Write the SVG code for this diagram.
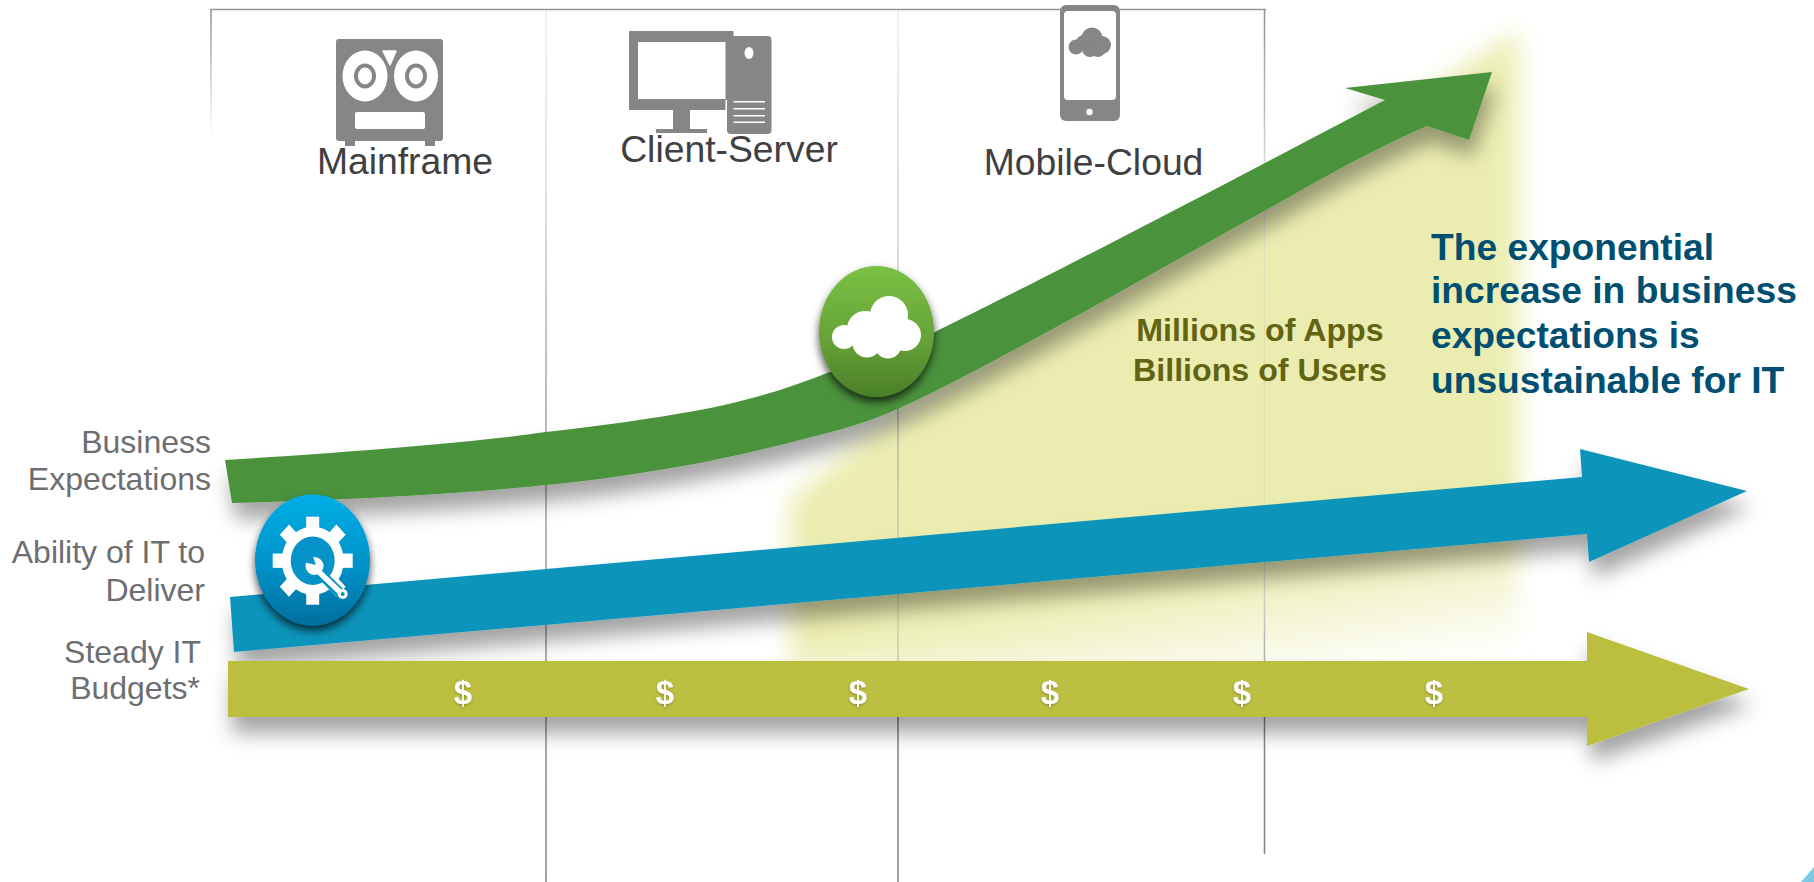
<svg xmlns="http://www.w3.org/2000/svg" width="1814" height="882" viewBox="0 0 1814 882">
<style>
text{font-family:"Liberation Sans",Arial,sans-serif}
.era{font-size:37.300px;fill:#404042;text-anchor:middle}
.lab{font-size:32px;fill:#6d6e71;text-anchor:end}
.usd{font-size:33px;font-weight:bold;fill:#fff;text-anchor:middle}
.ic{fill:#868689}
.w{fill:#fff}
.note{font-size:37.200px;font-weight:bold;fill:#004f71}
.apps{font-size:32.200px;font-weight:bold;fill:#626313;text-anchor:middle}
</style>
<defs>
<filter id="ds" x="-10%" y="-30%" width="120%" height="190%"><feDropShadow dx="4" dy="16" stdDeviation="10" flood-color="#000" flood-opacity=".36"/></filter>
<filter id="bs" x="-30%" y="-30%" width="160%" height="160%"><feDropShadow dx="0" dy="5" stdDeviation="4" flood-color="#000" flood-opacity=".7"/></filter>
<filter id="blur" x="-10%" y="-10%" width="120%" height="120%"><feGaussianBlur stdDeviation="12"/></filter>
<filter id="ts" x="-30%" y="-30%" width="160%" height="160%"><feDropShadow dx="0" dy="1" stdDeviation="1" flood-color="#000" flood-opacity=".3"/></filter>
<linearGradient id="yl" gradientUnits="userSpaceOnUse" x1="1000" y1="603" x2="1020" y2="729"><stop offset="0" stop-color="#ebedb0"/><stop offset="1" stop-color="#ebedb0" stop-opacity="0"/></linearGradient>
<linearGradient id="vl1" gradientUnits="userSpaceOnUse" x1="0" y1="0" x2="0" y2="882"><stop offset="0" stop-color="#eee"/><stop offset=".2" stop-color="#ddd"/><stop offset=".4" stop-color="#aaa"/><stop offset="1" stop-color="#808080"/></linearGradient>
<linearGradient id="vl2" gradientUnits="userSpaceOnUse" x1="0" y1="0" x2="0" y2="882"><stop offset="0" stop-color="#eee"/><stop offset=".3" stop-color="#ccc"/><stop offset=".45" stop-color="#b0b0b0"/><stop offset=".68" stop-color="#d4d4b0"/><stop offset=".75" stop-color="#c8c8b0"/><stop offset=".8" stop-color="#808080"/><stop offset="1" stop-color="#808080"/></linearGradient>
<linearGradient id="vl3" gradientUnits="userSpaceOnUse" x1="0" y1="0" x2="0" y2="882"><stop offset="0" stop-color="#8c8c8c"/><stop offset=".2" stop-color="#ddd"/><stop offset=".35" stop-color="#dfdfb0"/><stop offset=".6" stop-color="#dfdfb0"/><stop offset=".68" stop-color="#ccc"/><stop offset=".76" stop-color="#aaa"/><stop offset=".8" stop-color="#868686"/><stop offset="1" stop-color="#808080"/></linearGradient>
<linearGradient id="fl" gradientUnits="userSpaceOnUse" x1="0" y1="9" x2="0" y2="137"><stop offset="0" stop-color="#8c8c8c"/><stop offset="1" stop-color="#fff"/></linearGradient>
<linearGradient id="bb" x1="0" y1="0" x2="0" y2="1"><stop offset="0" stop-color="#00aee6"/><stop offset=".55" stop-color="#0092c8"/><stop offset="1" stop-color="#006f9e"/></linearGradient>
<linearGradient id="gb" x1="0" y1="0" x2="0" y2="1"><stop offset="0" stop-color="#7ac143"/><stop offset=".55" stop-color="#67a338"/><stop offset="1" stop-color="#4a7f28"/></linearGradient>
<rect id="tooth" x="-6.500" y="-40" width="13" height="14" fill="#fff"/>
</defs>
<rect width="1814" height="882" fill="#fff"/>

<g id="glow">
<path d="M790 668V500L880 425L1000 345L1340 150L1400 110L1518 30V668Z" fill="url(#yl)" filter="url(#blur)"/>
</g>

<g id="frame" fill="none" stroke-width="1.500">
<path d="M211 9.500H1266" stroke="#969696"/>
<path d="M211 9V137" stroke="url(#fl)"/>
<path d="M546 10V882" stroke="url(#vl1)"/>
<path d="M898 10V882" stroke="url(#vl2)"/>
<path d="M1264.500 10V854" stroke="url(#vl3)"/>
</g>

<g id="connectors">
<path id="arrow-business" filter="url(#ds)" fill="#4b923c" d="M225 460C340 453 470 443 546 432C600 426 650 419 700 410C745 402 790 388 827 373C860 361 900 348 935 332C1000 300 1100 250 1385 100L1345 88L1492 72L1469 140L1427 126C1385 144 1340 168 1300 191L1200 247L1100 303C1040 336 960 380 900 408C865 424 835 431 800 440C770 448 735 456 700 463C650 472 600 480 546 485C470 493 350 500 232 503Z"/>
<path id="arrow-ability" filter="url(#ds)" fill="#0b94bb" d="M230 597L1582 477L1580 449L1747 491L1589 562L1587 534L234 652Z"/>
<path id="arrow-budget" filter="url(#ds)" fill="#bcbe3f" d="M228 661H1587V632L1749 689L1587 746V717H228Z"/>
</g>

<g id="dollars" filter="url(#ts)">
<text class="usd" x="463" y="704">$</text>
<text class="usd" x="665" y="704">$</text>
<text class="usd" x="858" y="704">$</text>
<text class="usd" x="1050" y="704">$</text>
<text class="usd" x="1242" y="704">$</text>
<text class="usd" x="1434" y="704">$</text>
</g>

<g id="mainframe">
<rect class="ic" x="336" y="39" width="107" height="102" rx="3"/>
<rect class="ic" x="345" y="140" width="10" height="6"/>
<rect class="ic" x="425" y="140" width="10" height="6"/>
<ellipse class="w" cx="365" cy="76" rx="22.500" ry="25.500"/>
<ellipse class="w" cx="416" cy="76" rx="22" ry="25.500"/>
<ellipse class="ic" cx="365" cy="76" rx="11" ry="12.500"/>
<ellipse class="ic" cx="416" cy="76" rx="11" ry="12.500"/>
<ellipse class="w" cx="365" cy="76" rx="7" ry="8.500"/>
<ellipse class="w" cx="416" cy="76" rx="7" ry="8.500"/>
<path class="w" d="M383 51H396L390 65Z" stroke="#fff" stroke-width="1.500" stroke-linejoin="round"/>
<rect class="w" x="355" y="112" width="70" height="17" rx="2"/>
<text class="era" x="405" y="174">Mainframe</text>
</g>

<g id="client-server">
<rect class="ic" x="727" y="36" width="44.500" height="98" rx="4"/>
<rect class="ic" x="629" y="31" width="104.500" height="79"/>
<rect class="w" x="638" y="42" width="87.500" height="57"/>
<rect class="w" x="725.500" y="100" width="1.500" height="10"/>
<rect class="ic" x="673" y="110" width="17" height="20"/>
<rect class="ic" x="656" y="129" width="51" height="4"/>
<ellipse class="w" cx="749" cy="53" rx="4.500" ry="6"/>
<g class="w"><rect x="733.500" y="101" width="31.500" height="1.500"/><rect x="733.500" y="108" width="31.500" height="1.500"/><rect x="733.500" y="115" width="31.500" height="1.500"/><rect x="733.500" y="121.500" width="31.500" height="1.500"/></g>
<text class="era" x="729" y="162">Client-Server</text>
</g>

<g id="mobile-cloud">
<rect class="ic" x="1060" y="5" width="60" height="116" rx="6"/>
<rect class="w" x="1064" y="11" width="52" height="89" rx="4"/>
<circle class="w" cx="1089.500" cy="112" r="3.200"/>
<g class="ic"><circle cx="1076" cy="47" r="7.500"/><circle cx="1084" cy="43" r="8"/><circle cx="1092" cy="38" r="10.500"/><circle cx="1102" cy="45" r="9"/><circle cx="1090" cy="49" r="8"/><circle cx="1098" cy="50" r="7"/></g>
<text class="era" x="1093.500" y="175">Mobile-Cloud</text>
</g>

<g id="business-expectations">
<text class="lab" x="211" y="453">Business</text>
<text class="lab" x="211" y="490">Expectations</text>
</g>
<g id="ability-of-it">
<text class="lab" x="205" y="563">Ability of IT to</text>
<text class="lab" x="205" y="601">Deliver</text>
</g>
<g id="steady-budgets">
<text class="lab" x="201" y="663">Steady IT</text>
<text class="lab" x="200" y="699">Budgets*</text>
</g>

<g id="gear-badge">
<ellipse cx="312.500" cy="560" rx="57.500" ry="65.500" fill="url(#bb)" filter="url(#bs)"/>
<g transform="translate(312.700 560.700) scale(1 1.100)">
<circle r="31" fill="#fff"/>
<use href="#tooth"/><use href="#tooth" transform="rotate(45)"/><use href="#tooth" transform="rotate(90)"/><use href="#tooth" transform="rotate(135)"/><use href="#tooth" transform="rotate(180)"/><use href="#tooth" transform="rotate(225)"/><use href="#tooth" transform="rotate(270)"/><use href="#tooth" transform="rotate(315)"/>
<circle r="22" fill="#0693c9"/>
</g>
<path d="M318 571L341 594" stroke="#058fc2" stroke-width="10" fill="none"/>
<path d="M318 571L341 593" stroke="#fff" stroke-width="5.500" fill="none"/>
<circle cx="314.500" cy="566" r="9" fill="#fff"/>
<path d="M316 565L311 551L299 561Z" fill="#0693c9"/>
<circle cx="342.700" cy="594" r="5" fill="#fff"/>
<circle cx="342.700" cy="594" r="2" fill="#058fc2"/>
</g>

<g id="cloud-badge">
<ellipse cx="876.500" cy="331.500" rx="57.500" ry="65.500" fill="url(#gb)" filter="url(#bs)"/>
<g class="w"><circle cx="844" cy="337" r="12"/><circle cx="865" cy="329" r="18"/><circle cx="889" cy="315" r="19"/><circle cx="905" cy="335" r="16"/><circle cx="867" cy="343" r="14.500"/><circle cx="888" cy="345" r="13.500"/><circle cx="906" cy="343" r="7"/><circle cx="880" cy="335" r="16"/></g>
</g>

<g id="callouts">
<text class="apps" x="1260" y="341">Millions of Apps</text>
<text class="apps" x="1260" y="381">Billions of Users</text>
<text class="note" x="1431" y="260">The exponential</text>
<text class="note" x="1431" y="303">increase in business</text>
<text class="note" x="1431" y="348">expectations is</text>
<text class="note" x="1431" y="393">unsustainable for IT</text>
</g>

<path id="corner" d="M1801 882L1814 867V882Z" fill="#7ec8e3"/>
</svg>
